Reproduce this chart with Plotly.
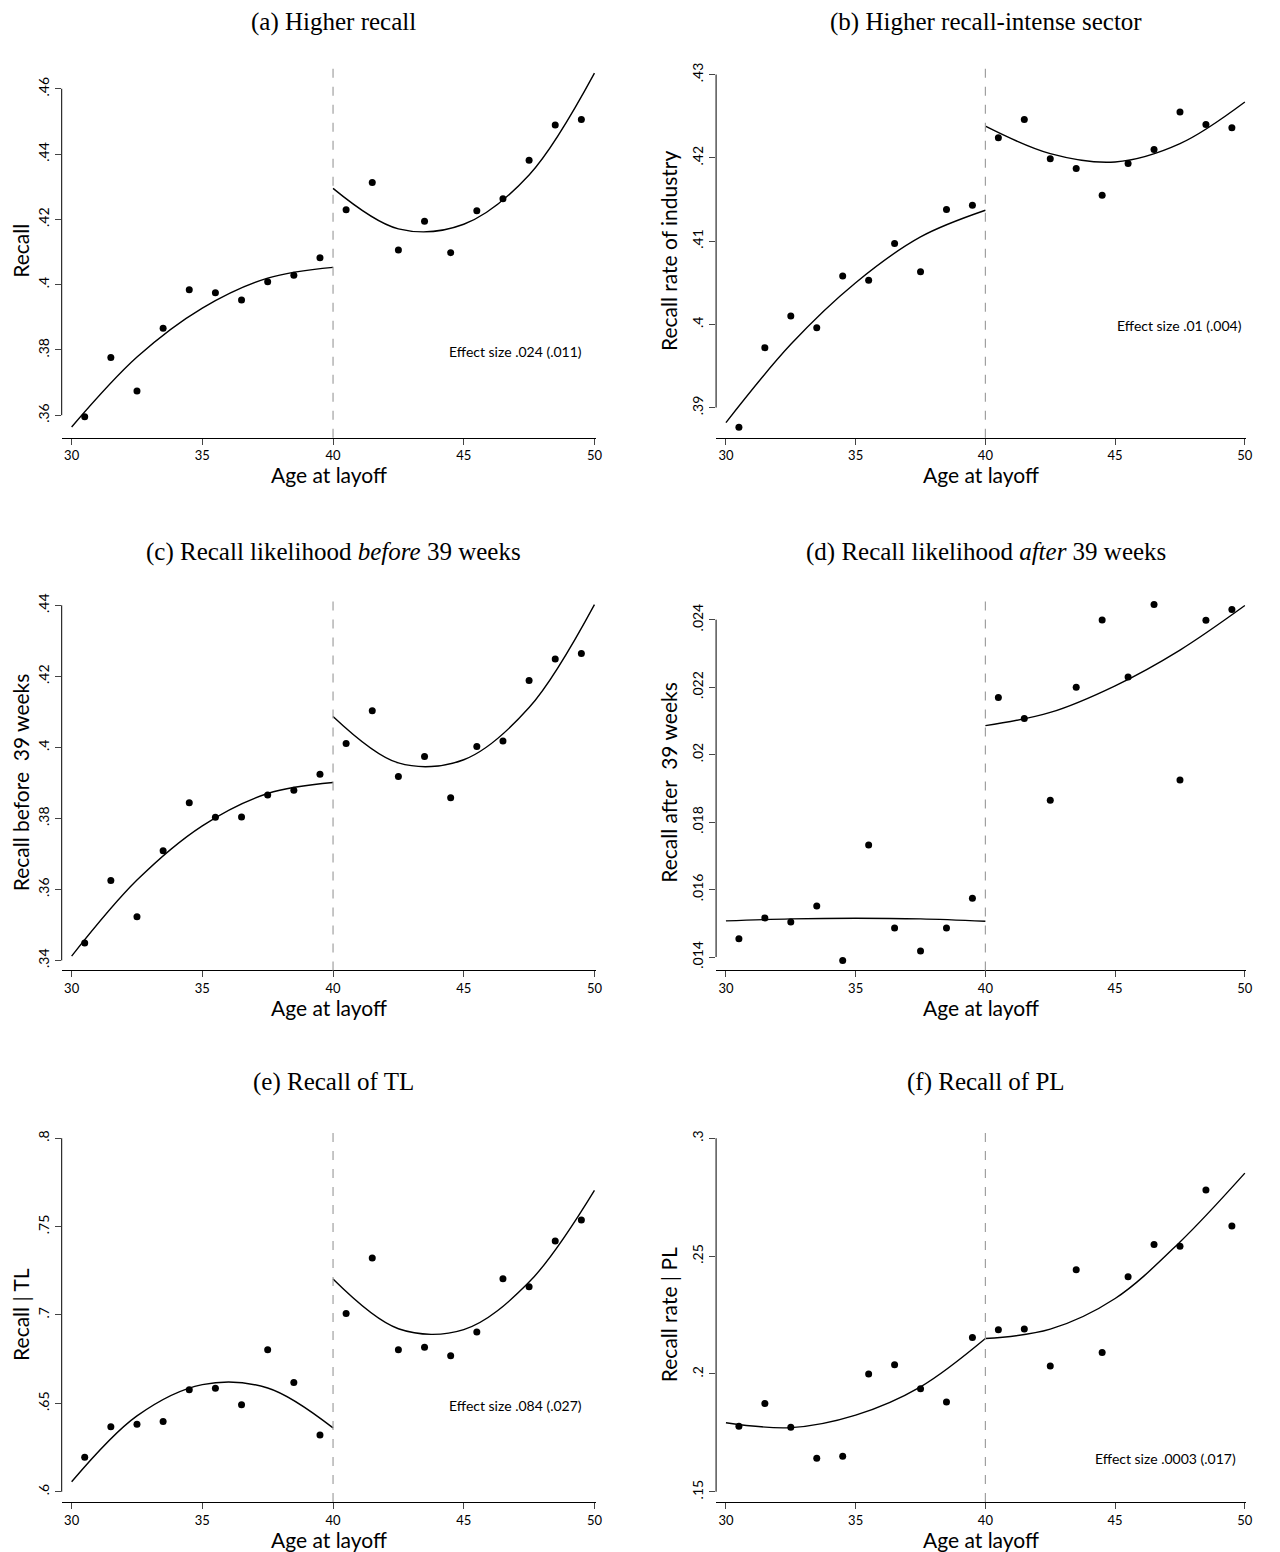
import plotly.graph_objects as go

# binned means by age at layoff
ages = [30.5, 31.5, 32.5, 33.5, 34.5, 35.5, 36.5, 37.5, 38.5, 39.5,
        40.5, 41.5, 42.5, 43.5, 44.5, 45.5, 46.5, 47.5, 48.5, 49.5]

recall = [.3595, .3777, .3674, .3866, .3984, .3975, .3953, .4009, .4029, .4082,
          .4229, .4313, .4106, .4194, .4098, .4226, .4263, .4381, .4489, .4506]
recall_ind = [.38765, .3972, .4010, .3996, .4058, .4053, .4097, .4063, .4138, .4143,
              .4224, .4246, .4199, .4187, .4155, .4193, .4210, .4255, .4240, .4236]
recall_before = [.3449, .3625, .3523, .3709, .3844, .3803, .3804, .3866, .3879, .3924,
                 .4011, .4103, .3918, .3974, .3858, .4002, .4018, .4188, .4249, .4264]
recall_after = [.01454, .01516, .01504, .01551, .01390, .01732, .01486, .01418, .01486, .01574,
                .02169, .02107, .01865, .02200, .02399, .02230, .02445, .01925, .02398, .02430]
recall_tl = [.6195, .6367, .6382, .6397, .6577, .6585, .6492, .6803, .6618, .6321,
             .7009, .7323, .6803, .6818, .6769, .6904, .7205, .7160, .7419, .7538]
recall_pl = [.1778, .1874, .1774, .1642, .1651, .2000, .2039, .1937, .1881, .2154,
             .2187, .2191, .2034, .2442, .2091, .2412, .2549, .2542, .2780, .2628]

# quadratic fit lines
fit_x_left = [30, 32.5, 35, 37.5, 40]
fit_x_right = [40, 42.5, 45, 47.5, 50]
fit_a = ([.3564, .3778, .3928, .4020, .4053], [.4295, .4171, .4185, .4336, .4648])
fit_b = ([.3882, .3976, .4050, .4105, .4137], [.4238, .4205, .4195, .4217, .4267])
fit_c = ([.3412, .3626, .3779, .3870, .3901], [.4087, .3956, .3965, .4112, .4402])
fit_d = ([.01507, .01513, .01515, .01513, .01506], [.02086, .02125, .02204, .02310, .02442])
fit_e = ([.6056, .6429, .6606, .6587, .6361], [.7203, .6922, .6917, .7186, .7705])
fit_f = ([.1793, .1772, .1825, .1945, .2150], [.2150, .2190, .2320, .2560, .2852])

panels = [
    ("(a) Higher recall", "Recall", recall, fit_a,
     [.36, .38, .40, .42, .44, .46], [".36", ".38", ".4", ".42", ".44", ".46"],
     [.3531, .4676], "Effect size .024 (.011)", 49.6, .3795),
    ("(b) Higher recall-intense sector", "Recall rate of industry", recall_ind, fit_b,
     [.39, .40, .41, .42, .43], [".39", ".4", ".41", ".42", ".43"],
     [.38638, .43127], "Effect size .01 (.004)", 49.95, .3998),
    ("(c) Recall likelihood <i>before</i> 39 weeks", "Recall before  39 weeks", recall_before, fit_c,
     [.34, .36, .38, .40, .42, .44], [".34", ".36", ".38", ".4", ".42", ".44"],
     [.33718, .44301], "Effect size .018 (.011)", 50.6, .3596),
    ("(d) Recall likelihood <i>after</i> 39 weeks", "Recall after  39 weeks", recall_after, fit_d,
     [.014, .016, .018, .020, .022, .024], [".014", ".016", ".018", ".02", ".022", ".024"],
     [.013604, .024743], "Effect size .005 (.003)", 50.57, .01596),
    ("(e) Recall of TL", "Recall | TL", recall_tl, fit_e,
     [.60, .65, .70, .75, .80], [".6", ".65", ".7", ".75", ".8"],
     [.59417, .8062], "Effect size .084 (.027)", 49.6, .6487),
    ("(f) Recall of PL", "Recall rate | PL", recall_pl, fit_f,
     [.15, .20, .25, .30], [".15", ".2", ".25", ".3"],
     [.14563, .30465], "Effect size .0003 (.017)", 49.75, .16396),
]

# page adds an 8px body margin, so the figure is shifted by that much
OFF = 8
W, H = 1272, 1544
col_px = [(62, 599), (720, 1253)]
row_px = [(63, 437), (594, 970), (1127, 1502)]
title_y_px = [21, 551, 1082]

SANS = "Lato, 'Gill Sans', 'DejaVu Sans', sans-serif"
SERIF = "'Liberation Serif', 'DejaVu Serif', serif"

fig = go.Figure()
layout = dict(width=W, height=H, margin=dict(l=0, r=0, t=0, b=0),
              paper_bgcolor="white", plot_bgcolor="white", showlegend=False)
annotations = []
shapes = []

for i, (title, ytitle, vals, fit, tv, tt, yr, eff, ex, ey) in enumerate(panels):
    r, c = divmod(i, 2)
    n = "" if i == 0 else str(i + 1)
    xa, ya = "x" + n, "y" + n
    x0, x1 = [p - OFF for p in col_px[c]]
    y0, y1 = [p - OFF for p in row_px[r]]
    layout["xaxis" + n] = dict(
        domain=[x0 / W, x1 / W], range=[29.62, 50.05], anchor=ya,
        tickvals=[30, 35, 40, 45, 50], ticks="outside", ticklen=6,
        showline=True, linecolor="black", linewidth=1, showgrid=False, zeroline=False,
        tickfont=dict(family=SANS, size=13, color="black"))
    layout["yaxis" + n] = dict(
        domain=[1 - y1 / H, 1 - y0 / H], range=yr, anchor=xa,
        tickvals=tv, ticktext=tt, tickangle=-90, ticks="outside", ticklen=6,
        showline=False, showgrid=False, zeroline=False,
        tickfont=dict(family=SANS, size=14, color="black"),
        title=dict(text=ytitle, font=dict(family=SANS, size=21, color="black"), standoff=6))
    # y axis line spanning the tick range only
    shapes.append(dict(type="line", xref=xa + " domain", yref=ya, x0=0, x1=0,
                       y0=tv[0], y1=tv[-1], line=dict(color="black", width=1)))
    # cutoff at 40
    shapes.append(dict(type="line", xref=xa, yref=ya + " domain", x0=40, x1=40, y0=0, y1=1,
                       line=dict(color="#a0a0a0", width=1.2, dash="dash")))
    fig.add_trace(go.Scatter(x=ages, y=vals, mode="markers", xaxis=xa, yaxis=ya,
                             marker=dict(color="black", size=7)))
    for fx, fy in ((fit_x_left, fit[0]), (fit_x_right, fit[1])):
        fig.add_trace(go.Scatter(x=fx, y=fy, mode="lines", xaxis=xa, yaxis=ya,
                                 line=dict(color="black", width=1.4, shape="spline")))
    annotations.append(dict(text=title, xref="paper", yref="paper",
                            x=(x0 + x1 + 10) / 2 / W, y=1 - (title_y_px[r] - OFF) / H,
                            xanchor="center", yanchor="middle",
                            showarrow=False, font=dict(family=SERIF, size=25, color="black")))
    # x axis title as a fixed-position label
    annotations.append(dict(text="Age at layoff", xref=xa + " domain", yref="paper",
                            x=0.5, y=1 - (y1 + 37) / H, xanchor="center", yanchor="middle",
                            showarrow=False, font=dict(family=SANS, size=21, color="black")))
    annotations.append(dict(text=eff, xref=xa, yref=ya, x=ex, y=ey, xanchor="right",
                            showarrow=False, font=dict(family=SANS, size=14, color="black")))

layout["annotations"] = annotations
layout["shapes"] = shapes
fig.update_layout(**layout)
fig.write_html("out.html")
